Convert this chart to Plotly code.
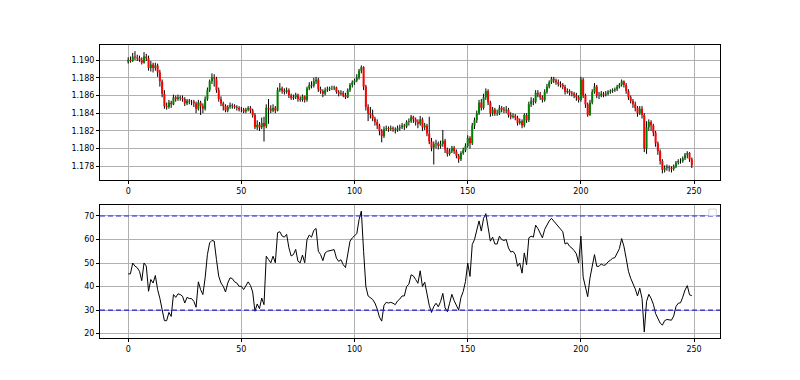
import plotly.graph_objects as go

# ---------------- data ----------------
opens = [
 1.1898,1.1900,1.1899,1.1904,1.1903,1.1902,1.1900,1.1897,1.1904,1.1902,
 1.1891,1.1895,1.1891,1.1894,1.1886,1.1876,1.1862,1.1848,1.1847,1.1852,
 1.1850,1.1858,1.1856,1.1858,1.1857,1.1856,1.1851,1.1854,1.1853,1.1853,
 1.1851,1.1845,1.1852,1.1848,1.1845,1.1856,1.1866,1.1876,1.1880,1.1879,
 1.1866,1.1856,1.1851,1.1848,1.1843,1.1847,1.1849,1.1848,1.1847,1.1846,
 1.1844,1.1844,1.1842,1.1844,1.1846,1.1843,1.1838,1.1824,1.1827,1.1824,
 1.1829,1.1825,1.1846,1.1845,1.1843,1.1846,1.1843,1.1866,1.1868,1.1865,
 1.1864,1.1866,1.1860,1.1857,1.1858,1.1861,1.1856,1.1855,1.1859,1.1855,
 1.1868,1.1872,1.1871,1.1876,1.1878,1.1867,1.1865,1.1862,1.1866,1.1867,
 1.1868,1.1868,1.1869,1.1864,1.1862,1.1863,1.1860,1.1858,1.1866,1.1872,
 1.1875,1.1877,1.1880,1.1888,1.1892,1.1870,1.1847,1.1840,1.1838,1.1834,
 1.1830,1.1826,1.1820,1.1814,1.1822,1.1823,1.1822,1.1823,1.1822,1.1821,
 1.1823,1.1824,1.1826,1.1825,1.1830,1.1831,1.1836,1.1833,1.1830,1.1828,
 1.1833,1.1824,1.1826,1.1817,1.1808,1.1801,1.1805,1.1806,1.1803,1.1805,
 1.1809,1.1799,1.1794,1.1797,1.1801,1.1797,1.1792,1.1788,1.1795,1.1798,
 1.1803,1.1812,1.1806,1.1826,1.1832,1.1840,1.1852,1.1846,1.1858,1.1865,
 1.1852,1.1840,1.1844,1.1840,1.1840,1.1846,1.1844,1.1843,1.1844,1.1838,
 1.1836,1.1837,1.1835,1.1829,1.1831,1.1826,1.1838,1.1832,1.1850,1.1854,
 1.1853,1.1863,1.1861,1.1858,1.1855,1.1864,1.1870,1.1875,1.1879,1.1877,
 1.1875,1.1873,1.1872,1.1870,1.1864,1.1865,1.1863,1.1862,1.1860,1.1858,
 1.1855,1.1878,1.1860,1.1850,1.1838,1.1852,1.1864,1.1870,1.1860,1.1860,
 1.1862,1.1861,1.1862,1.1864,1.1865,1.1866,1.1867,1.1870,1.1872,1.1876,
 1.1872,1.1865,1.1858,1.1854,1.1850,1.1846,1.1840,1.1845,1.1838,1.1800,
 1.1824,1.1830,1.1826,1.1818,1.1806,1.1797,1.1786,1.1776,1.1778,1.1779,
 1.1778,1.1777,1.1780,1.1784,1.1786,1.1786,1.1789,1.1793,1.1795,1.1788,
]
highs = [
 1.1903,1.1904,1.1908,1.1910,1.1906,1.1905,1.1903,1.1909,1.1907,1.1905,
 1.1899,1.1897,1.1897,1.1896,1.1889,1.1878,1.1866,1.1852,1.1855,1.1854,
 1.1861,1.1860,1.1861,1.1860,1.1860,1.1858,1.1856,1.1856,1.1855,1.1855,
 1.1853,1.1855,1.1854,1.1851,1.1859,1.1869,1.1878,1.1885,1.1884,1.1881,
 1.1869,1.1859,1.1853,1.1850,1.1849,1.1852,1.1851,1.1850,1.1849,1.1848,
 1.1847,1.1846,1.1846,1.1848,1.1848,1.1845,1.1840,1.1832,1.1830,1.1835,
 1.1836,1.1850,1.1856,1.1849,1.1850,1.1848,1.1869,1.1874,1.1870,1.1868,
 1.1869,1.1868,1.1862,1.1861,1.1863,1.1862,1.1859,1.1861,1.1860,1.1870,
 1.1875,1.1876,1.1880,1.1881,1.1880,1.1870,1.1867,1.1869,1.1870,1.1870,
 1.1871,1.1871,1.1870,1.1866,1.1866,1.1865,1.1863,1.1868,1.1874,1.1877,
 1.1879,1.1884,1.1890,1.1894,1.1893,1.1872,1.1850,1.1847,1.1844,1.1836,
 1.1833,1.1828,1.1822,1.1825,1.1826,1.1825,1.1826,1.1825,1.1824,1.1826,
 1.1827,1.1829,1.1828,1.1832,1.1834,1.1838,1.1837,1.1835,1.1833,1.1837,
 1.1835,1.1829,1.1828,1.1836,1.1812,1.1808,1.1810,1.1808,1.1809,1.1821,
 1.1811,1.1801,1.1800,1.1803,1.1803,1.1799,1.1794,1.1797,1.1801,1.1806,
 1.1815,1.1814,1.1829,1.1835,1.1843,1.1855,1.1856,1.1862,1.1868,1.1867,
 1.1854,1.1847,1.1846,1.1844,1.1849,1.1848,1.1847,1.1848,1.1846,1.1841,
 1.1840,1.1839,1.1837,1.1834,1.1833,1.1840,1.1840,1.1853,1.1858,1.1857,
 1.1866,1.1866,1.1864,1.1860,1.1867,1.1873,1.1877,1.1881,1.1881,1.1879,
 1.1878,1.1876,1.1874,1.1872,1.1868,1.1867,1.1865,1.1864,1.1863,1.1860,
 1.1881,1.1880,1.1862,1.1852,1.1855,1.1867,1.1874,1.1872,1.1864,1.1865,
 1.1864,1.1865,1.1866,1.1867,1.1868,1.1869,1.1872,1.1874,1.1878,1.1877,
 1.1874,1.1867,1.1860,1.1856,1.1853,1.1848,1.1848,1.1848,1.1840,1.1831,
 1.1833,1.1832,1.1828,1.1820,1.1808,1.1799,1.1788,1.1781,1.1782,1.1781,
 1.1780,1.1782,1.1786,1.1788,1.1789,1.1791,1.1795,1.1797,1.1796,1.1790,
]
lows = [
 1.1896,1.1897,1.1898,1.1900,1.1899,1.1898,1.1895,1.1896,1.1899,1.1888,
 1.1887,1.1886,1.1888,1.1881,1.1870,1.1858,1.1845,1.1844,1.1845,1.1846,
 1.1849,1.1853,1.1854,1.1854,1.1853,1.1848,1.1849,1.1850,1.1849,1.1847,
 1.1840,1.1843,1.1838,1.1840,1.1843,1.1854,1.1864,1.1873,1.1870,1.1863,
 1.1853,1.1848,1.1843,1.1841,1.1841,1.1845,1.1845,1.1845,1.1843,1.1842,
 1.1841,1.1840,1.1840,1.1842,1.1840,1.1835,1.1822,1.1821,1.1820,1.1822,
 1.1808,1.1823,1.1828,1.1840,1.1841,1.1840,1.1842,1.1864,1.1862,1.1861,
 1.1862,1.1857,1.1855,1.1855,1.1856,1.1853,1.1853,1.1853,1.1852,1.1853,
 1.1866,1.1868,1.1869,1.1873,1.1864,1.1862,1.1858,1.1860,1.1864,1.1865,
 1.1866,1.1866,1.1862,1.1859,1.1860,1.1858,1.1856,1.1857,1.1864,1.1869,
 1.1872,1.1875,1.1878,1.1885,1.1866,1.1843,1.1831,1.1834,1.1831,1.1826,
 1.1822,1.1815,1.1807,1.1812,1.1820,1.1819,1.1820,1.1819,1.1817,1.1819,
 1.1820,1.1822,1.1821,1.1823,1.1826,1.1829,1.1829,1.1826,1.1823,1.1826,
 1.1820,1.1821,1.1814,1.1805,1.1797,1.1782,1.1800,1.1799,1.1800,1.1802,
 1.1795,1.1791,1.1792,1.1795,1.1794,1.1789,1.1784,1.1786,1.1793,1.1796,
 1.1801,1.1800,1.1804,1.1822,1.1829,1.1838,1.1843,1.1844,1.1855,1.1849,
 1.1836,1.1837,1.1837,1.1837,1.1838,1.1841,1.1840,1.1840,1.1835,1.1833,
 1.1834,1.1832,1.1826,1.1827,1.1823,1.1824,1.1829,1.1830,1.1847,1.1849,
 1.1851,1.1858,1.1855,1.1852,1.1853,1.1862,1.1868,1.1873,1.1874,1.1872,
 1.1870,1.1869,1.1867,1.1861,1.1862,1.1860,1.1859,1.1857,1.1854,1.1852,
 1.1853,1.1857,1.1846,1.1836,1.1837,1.1850,1.1862,1.1857,1.1856,1.1858,
 1.1858,1.1859,1.1860,1.1862,1.1863,1.1864,1.1865,1.1868,1.1870,1.1869,
 1.1862,1.1855,1.1851,1.1846,1.1842,1.1836,1.1838,1.1834,1.1796,1.1794,
 1.1820,1.1820,1.1814,1.1802,1.1793,1.1782,1.1772,1.1773,1.1775,1.1774,
 1.1773,1.1775,1.1778,1.1782,1.1783,1.1784,1.1787,1.1789,1.1785,1.1778,
]
closes = [
 1.1900,1.1899,1.1904,1.1903,1.1902,1.1900,1.1897,1.1904,1.1902,1.1891,
 1.1895,1.1891,1.1894,1.1886,1.1876,1.1862,1.1848,1.1847,1.1852,1.1850,
 1.1858,1.1856,1.1858,1.1857,1.1856,1.1851,1.1854,1.1853,1.1853,1.1851,
 1.1845,1.1852,1.1848,1.1845,1.1856,1.1866,1.1876,1.1880,1.1879,1.1866,
 1.1856,1.1851,1.1848,1.1843,1.1847,1.1849,1.1848,1.1847,1.1846,1.1844,
 1.1844,1.1842,1.1844,1.1846,1.1843,1.1838,1.1824,1.1827,1.1824,1.1829,
 1.1825,1.1846,1.1845,1.1843,1.1846,1.1843,1.1866,1.1868,1.1865,1.1864,
 1.1866,1.1860,1.1857,1.1858,1.1861,1.1856,1.1855,1.1859,1.1855,1.1868,
 1.1872,1.1871,1.1876,1.1878,1.1867,1.1865,1.1862,1.1866,1.1867,1.1868,
 1.1868,1.1869,1.1864,1.1862,1.1863,1.1860,1.1858,1.1866,1.1872,1.1875,
 1.1877,1.1880,1.1888,1.1892,1.1870,1.1847,1.1840,1.1838,1.1834,1.1830,
 1.1826,1.1820,1.1814,1.1822,1.1823,1.1822,1.1823,1.1822,1.1821,1.1823,
 1.1824,1.1826,1.1825,1.1830,1.1831,1.1836,1.1833,1.1830,1.1828,1.1833,
 1.1824,1.1826,1.1817,1.1808,1.1801,1.1805,1.1806,1.1803,1.1805,1.1809,
 1.1799,1.1794,1.1797,1.1801,1.1797,1.1792,1.1788,1.1795,1.1798,1.1803,
 1.1812,1.1806,1.1826,1.1832,1.1840,1.1852,1.1846,1.1858,1.1865,1.1852,
 1.1840,1.1844,1.1840,1.1840,1.1846,1.1844,1.1843,1.1844,1.1838,1.1836,
 1.1837,1.1835,1.1829,1.1831,1.1826,1.1838,1.1832,1.1850,1.1854,1.1853,
 1.1863,1.1861,1.1858,1.1855,1.1864,1.1870,1.1875,1.1879,1.1877,1.1875,
 1.1873,1.1872,1.1870,1.1864,1.1865,1.1863,1.1862,1.1860,1.1858,1.1855,
 1.1878,1.1860,1.1850,1.1838,1.1852,1.1864,1.1870,1.1860,1.1860,1.1862,
 1.1861,1.1862,1.1864,1.1865,1.1866,1.1867,1.1870,1.1872,1.1876,1.1872,
 1.1865,1.1858,1.1854,1.1850,1.1846,1.1840,1.1845,1.1838,1.1800,1.1824,
 1.1830,1.1826,1.1818,1.1806,1.1797,1.1786,1.1776,1.1778,1.1779,1.1778,
 1.1777,1.1780,1.1784,1.1786,1.1786,1.1789,1.1793,1.1795,1.1788,1.1781,
]
rsi = [
 45.4,45.4,50.0,48.7,48.0,46.5,42.5,50.0,48.7,38.0,
 43.0,41.5,44.7,38.7,35.0,29.5,25.5,25.5,29.0,27.3,
 36.6,35.4,36.9,36.6,35.9,33.0,35.4,34.9,34.9,33.7,
 31.2,42.0,38.7,36.6,43.7,53.6,58.6,59.6,59.3,51.5,
 44.4,41.5,40.1,37.7,41.5,43.7,43.4,42.0,41.5,40.1,
 40.1,38.7,40.1,42.0,40.5,37.7,29.5,32.6,30.6,35.1,
 32.3,52.9,51.5,50.1,52.9,50.1,62.9,63.3,61.5,61.0,
 62.2,56.5,53.0,53.6,55.8,50.8,50.1,53.4,50.1,60.0,
 61.9,61.0,63.9,64.7,55.0,53.6,51.0,54.3,55.0,55.3,
 55.3,55.7,52.1,50.7,51.4,49.3,48.1,53.0,59.3,60.7,
 61.4,62.5,68.5,72.1,55.0,40.0,36.0,35.3,34.5,33.0,
 30.5,27.0,25.3,32.0,33.3,33.0,33.3,32.9,32.3,33.9,
 34.7,36.0,36.0,40.0,41.0,45.0,44.5,43.0,41.4,46.7,
 40.0,41.9,37.0,32.0,29.0,31.5,32.9,31.4,33.6,37.1,
 31.0,29.3,32.9,36.7,34.0,32.0,30.0,35.3,37.9,42.1,
 50.0,44.3,57.9,60.0,63.6,67.9,63.6,69.0,71.0,64.5,
 59.3,61.0,58.1,58.1,61.4,60.0,59.6,60.0,56.4,54.7,
 55.0,53.6,48.6,50.0,45.7,54.3,49.3,60.7,61.4,61.0,
 66.1,64.7,62.9,60.7,64.3,66.4,67.9,69.0,67.9,66.4,
 65.3,64.3,63.3,58.1,58.6,57.1,56.4,55.3,53.9,50.0,
 61.4,44.0,39.3,35.7,43.6,49.3,53.6,48.6,48.6,49.6,
 49.0,49.3,50.5,51.2,52.0,52.3,54.5,56.1,60.4,57.1,
 52.0,46.5,43.5,41.5,39.0,36.0,39.3,35.0,20.7,33.6,
 36.7,35.0,32.5,28.5,26.5,24.5,23.6,25.5,26.0,26.0,
 25.7,27.5,31.5,32.9,33.1,35.5,38.5,40.4,36.5,36.1,
]
rsi_levels = [30, 70]
x_ticks = [0, 50, 100, 150, 200, 250]
price_ticks = [1.178, 1.180, 1.182, 1.184, 1.186, 1.188, 1.190]
rsi_ticks = [20, 30, 40, 50, 60, 70]

# ---------------- build segment traces ----------------
idx = list(range(len(closes)))
wx, wy = [], []
gx, gy = [], []
rx, ry = [], []
for i, o, h, l, c in zip(idx, opens, highs, lows, closes):
    wx += [i, i, None]
    wy += [l, h, None]
    if c > o:
        gx += [i, i, None]
        gy += [o, c, None]
    elif c < o:
        rx += [i, i, None]
        ry += [o, c, None]

fig = go.Figure()
fig.add_trace(go.Scatter(x=wx, y=wy, mode="lines", line=dict(color="black", width=1),
                         xaxis="x", yaxis="y", showlegend=False, hoverinfo="skip"))
fig.add_trace(go.Scatter(x=gx, y=gy, mode="lines", line=dict(color="green", width=2),
                         xaxis="x", yaxis="y", showlegend=False, hoverinfo="skip"))
fig.add_trace(go.Scatter(x=rx, y=ry, mode="lines", line=dict(color="red", width=2),
                         xaxis="x", yaxis="y", showlegend=False, hoverinfo="skip"))
fig.add_trace(go.Scatter(x=idx, y=rsi, mode="lines", line=dict(color="black", width=1),
                         xaxis="x2", yaxis="y2", showlegend=False))

for lv in rsi_levels:
    fig.add_shape(type="line", xref="x2 domain", yref="y2", x0=0, x1=1, y0=lv, y1=lv,
                  line=dict(color="#2222dd", width=1.2, dash="5px,3px"))

# empty legend box (top-right of lower panel)
fig.add_shape(type="rect", xref="paper", yref="paper", x0=0.982, x1=0.994, y0=0.418, y1=0.44,
              line=dict(color="#d6d6d6", width=1), fillcolor="rgba(255,255,255,0.8)")

tickfont = dict(family="DejaVu Sans", size=8, color="black")
common = dict(showline=True, mirror=True, linecolor="black", linewidth=1,
              ticks="outside", ticklen=3, tickwidth=1, tickcolor="black",
              showgrid=True, gridcolor="#b0b0b0", gridwidth=0.8, zeroline=False,
              tickfont=tickfont)

top_dom = [0.5392, 1.0]
bot_dom = [0.0, 0.4539]
# the page body adds an 8px offset, so the figure is 792x372 and margins are shifted
fig.update_layout(
    width=792, height=372,
    margin=dict(l=92, r=80, t=37, b=42),
    paper_bgcolor="white", plot_bgcolor="white",
    showlegend=False,
    xaxis=dict(domain=[0, 1], range=[-12.45, 261.45], tickvals=x_ticks, anchor="y", **common),
    yaxis=dict(domain=top_dom, range=[1.17645, 1.19170], tickvals=price_ticks,
               tickformat=".3f", anchor="x", **common),
    xaxis2=dict(domain=[0, 1], range=[-12.45, 261.45], tickvals=x_ticks, anchor="y2", **common),
    yaxis2=dict(domain=bot_dom, range=[18.13, 74.67], tickvals=rsi_ticks, anchor="x2", **common),
)

fig.write_html("out.html")
